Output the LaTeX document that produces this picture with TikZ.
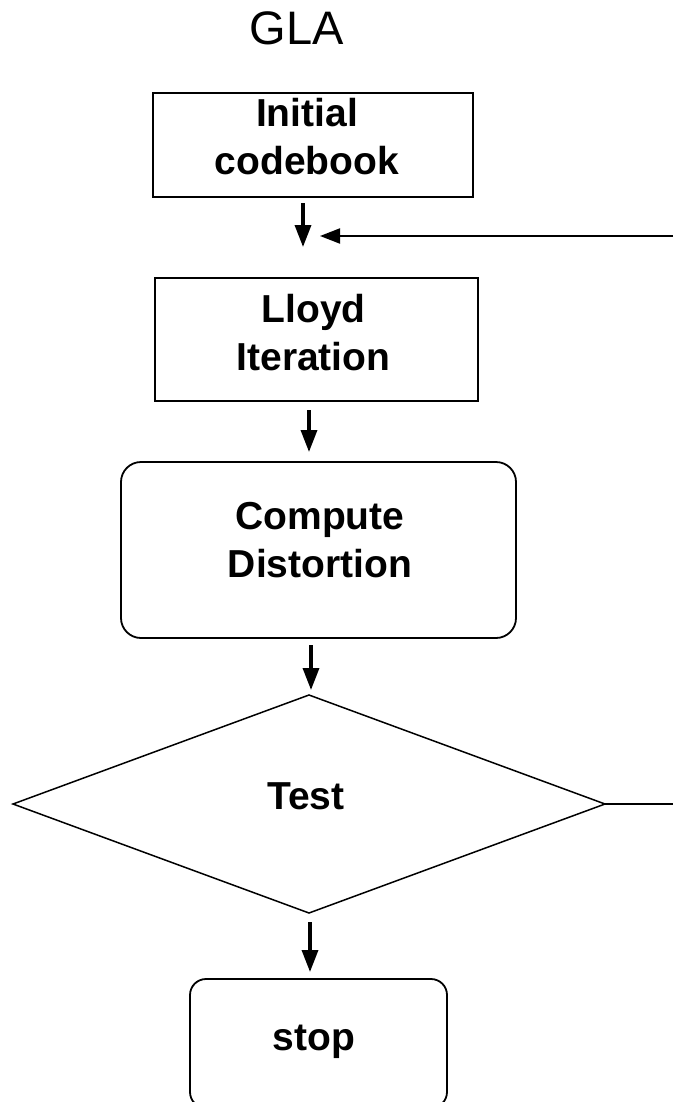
\documentclass[tikz,border=0pt]{standalone}
\usepackage{fontspec}
\setmainfont{Liberation Sans}
\usetikzlibrary{arrows.meta,shapes.geometric}
\begin{document}
\begin{tikzpicture}[x=1pt,y=-1pt,
  box/.style={draw, line width=1.8pt, inner sep=0pt, outer sep=0pt},
  procbox/.style={box, rectangle},
  roundbox/.style={box, rectangle, rounded corners=#1},
  testbox/.style={draw, line width=1.5pt, diamond, inner sep=0pt, outer sep=0pt},
  txt/.style={font=\bfseries\fontsize{39}{48}\selectfont, align=center, inner sep=0pt},
  arr/.style={line width=3.4pt, -{Triangle[length=22pt,width=16pt]}},
  backarr/.style={line width=2pt, -{Triangle[length=20pt,width=15pt]}},
  flow/.style={line width=2pt},
]
\fill[white] (0,0) rectangle (673,1102);
\useasboundingbox (0,0) rectangle (673,1102);

% title
\node[font=\fontsize{47}{56}\selectfont, inner sep=0pt] (title) at (297,28.5) {GLA};

% process boxes
\node[procbox, minimum width=320pt, minimum height=104pt] (init) at (313,145) {};
\node[txt] (initT) at (307,137) {Initial\\codebook};

\node[procbox, minimum width=323pt, minimum height=123pt] (lloyd) at (316.5,339.5) {};
\node[txt] (lloydT) at (313.5,332.5) {Lloyd\\Iteration};

\node[roundbox=20pt, minimum width=395pt, minimum height=176pt] (cd) at (318.5,550) {};
\node[txt] (cdT) at (320,540) {Compute\\Distortion};

\node[testbox, minimum width=592pt, minimum height=218pt] (test) at (309,804) {};
\node[txt] (testT) at (306,796.5) {Test};

\node[roundbox=16pt, minimum width=257pt, minimum height=129pt] (stop) at (318.5,1043.5) {};
\node[txt] (stopT) at (314,1041.5) {stop};

% downward flow
\draw[arr, shorten <=6pt, shorten >=31pt]
  ([xshift=-10pt]init.south) -- ([xshift=-10pt]init.south |- lloyd.north);
\draw[arr, shorten <=9pt, shorten >=10pt]
  ([xshift=-7.5pt]lloyd.south) -- ([xshift=-7.5pt]lloyd.south |- cd.north);
\draw[arr, shorten <=7pt, shorten >=5pt]
  ([xshift=-7.5pt]cd.south) -- ([xshift=-7.5pt]cd.south |- test.north);
\draw[arr, shorten <=9pt, shorten >=7pt]
  ([xshift=-8.5pt]stop.north |- test.south) -- ([xshift=-8.5pt]stop.north);

% feedback loop leaving the test and re-entering above the Lloyd iteration
\coordinate (edgeLow) at (673,804);
\coordinate (edgeHigh) at (673,236);
\coordinate (merge) at ([xshift=-10pt]init.south |- edgeHigh);
\draw[flow] (test.east) -- (edgeLow);
\draw[backarr, shorten >=17pt] (edgeHigh) -- (merge);
\end{tikzpicture}
\end{document}
